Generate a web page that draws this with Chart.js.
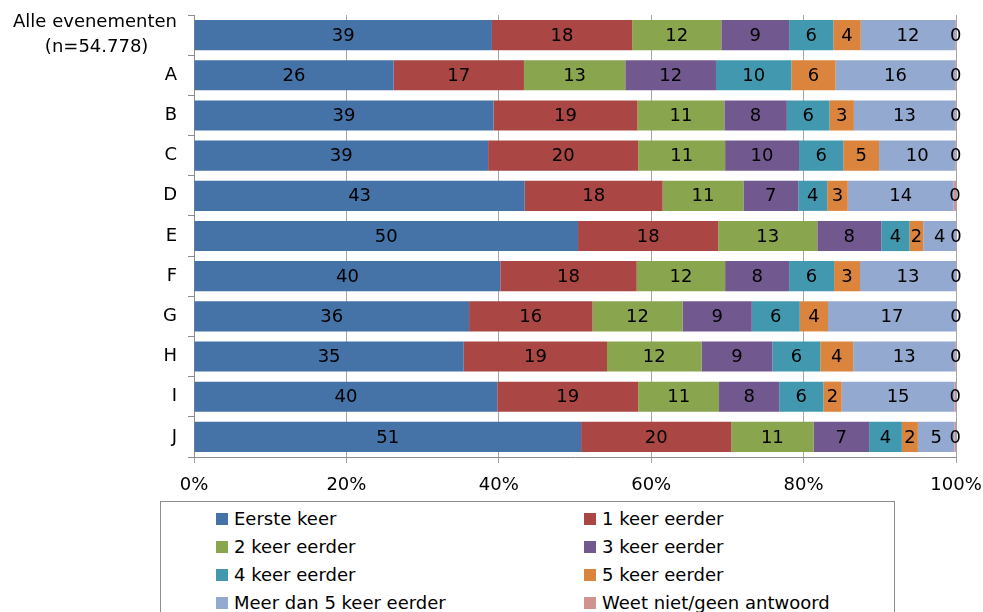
<!DOCTYPE html>
<html>
<head>
<meta charset="utf-8">
<script src="https://cdn.jsdelivr.net/npm/chart.js@4.4.0/dist/chart.umd.min.js"></script>
<style>
    html, body { margin: 0; padding: 0; background: #fff; }
    #wrap { position: relative; width: 983px; height: 612px; overflow: hidden; }
    #legend {
        position: absolute; left: 160px; top: 501px; width: 735px; height: 130px;
        border: 1px solid #8c8c8c; box-sizing: border-box; background: #fff;
        font-family: 'DejaVu Sans', sans-serif; font-size: 18px; color: #000;
    }
    .item { position: absolute; height: 28px; line-height: 28px; white-space: nowrap; }
    .item span.box { position: absolute; left: 0; top: 8px; width: 12px; height: 12px; }
    .item span.txt { position: absolute; left: 18px; top: 0; }
</style>
</head>
<body>
<div id="wrap">
    <canvas id="chart"></canvas>
    <div id="legend"></div>
</div>
<script>
// categories (first label padded so the second line sits centred under the first)
const categories = [['Alle evenementen', '(n=54.778)     '], 'A', 'B', 'C', 'D', 'E', 'F', 'G', 'H', 'I', 'J'];

const seriesNames = ['Eerste keer', '1 keer eerder', '2 keer eerder', '3 keer eerder',
    '4 keer eerder', '5 keer eerder', 'Meer dan 5 keer eerder', 'Weet niet/geen antwoord'];
const seriesColors = ['#4572A7', '#AA4643', '#89A54E', '#71588F', '#4198AF', '#DB843D', '#93A9CF', '#D19392'];

const eersteKeer = [39.1, 26.2, 39.3, 38.6, 43.4, 50.4, 40.2, 36.1, 35.4, 39.8, 50.8];
const keer1 = [18.4, 17.1, 18.9, 19.7, 18.1, 18.4, 17.9, 16.2, 18.8, 18.5, 19.7];
const keer2 = [11.7, 13.3, 11.4, 11.4, 10.6, 13.0, 11.6, 11.8, 12.4, 10.6, 10.8];
const keer3 = [8.9, 11.9, 8.2, 9.7, 7.2, 8.4, 8.4, 9.1, 9.3, 7.9, 7.3];
const keer4 = [5.8, 9.9, 5.6, 5.8, 3.8, 3.7, 5.9, 6.3, 6.3, 5.8, 4.3];
const keer5 = [3.6, 5.8, 3.2, 4.7, 2.7, 1.8, 3.4, 3.7, 4.3, 2.4, 2.1];
const meerDan5 = [12.4, 15.7, 13.3, 10.0, 13.9, 4.3, 12.6, 16.8, 13.4, 14.8, 4.8];
const weetNiet = [0.1, 0.1, 0.1, 0.1, 0.3, 0.0, 0.0, 0.0, 0.1, 0.2, 0.2];

const xTicks = [0, 20, 40, 60, 80, 100];

const seriesValues = [eersteKeer, keer1, keer2, keer3, keer4, keer5, meerDan5, weetNiet];

Chart.defaults.font.family = "'DejaVu Sans', sans-serif";
Chart.defaults.font.size = 18;
Chart.defaults.color = '#000';

// Draw rounded value in the middle of every segment
const segmentLabels = {
    id: 'segmentLabels',
    afterDatasetsDraw(chart) {
        const ctx = chart.ctx;
        ctx.save();
        ctx.font = "18px 'DejaVu Sans', sans-serif";
        ctx.fillStyle = '#000';
        ctx.textAlign = 'center';
        ctx.textBaseline = 'middle';
        chart.data.datasets.forEach((ds, i) => {
            const meta = chart.getDatasetMeta(i);
            meta.data.forEach((bar, j) => {
                const cx = (bar.x + bar.base) / 2;
                ctx.fillText(String(Math.round(ds.data[j])), cx, bar.y + 1);
            });
        });
        ctx.restore();
    }
};

new Chart(document.getElementById('chart'), {
    type: 'bar',
    data: {
        labels: categories,
        datasets: seriesNames.map((name, i) => ({
            label: name,
            data: seriesValues[i],
            backgroundColor: seriesColors[i],
            borderWidth: 0,
            barPercentage: 0.75,
            categoryPercentage: 1
        }))
    },
    options: {
        indexAxis: 'y',
        responsive: true,
        maintainAspectRatio: false,
        animation: false,
        layout: { padding: { top: 15, right: 27, bottom: 0, left: 0 } },
        plugins: { legend: { display: false }, tooltip: { enabled: false } },
        scales: {
            x: {
                stacked: true,
                min: 0,
                max: 100,
                afterBuildTicks: scale => { scale.ticks = xTicks.map(v => ({ value: v })); },
                afterFit: scale => {
                    scale.height = 155;
                    scale.paddingLeft = 0;
                    scale.paddingRight = 0;
                },
                ticks: { callback: v => v + '%', padding: 12, maxRotation: 0 },
                grid: { color: '#a6a6a6', lineWidth: 1, tickLength: 6 },
                border: { color: '#8c8c8c' }
            },
            y: {
                stacked: true,
                afterFit: scale => {
                    scale.width = 194;
                    scale.paddingTop = 0;
                    scale.paddingBottom = 0;
                },
                ticks: { autoSkip: false, padding: 11, font: { size: 18, lineHeight: 1.37 } },
                grid: { offset: true, drawOnChartArea: false, color: '#8c8c8c', tickLength: 6 },
                border: { color: '#8c8c8c' }
            }
        }
    },
    plugins: [segmentLabels]
});

// Legend box, two columns
const legend = document.getElementById('legend');
seriesNames.forEach((name, i) => {
    const el = document.createElement('div');
    el.className = 'item';
    el.style.left = (i % 2 === 0 ? 55 : 423) + 'px';
    el.style.top = (3 + Math.floor(i / 2) * 28) + 'px';
    el.innerHTML = '<span class="box" style="background:' + seriesColors[i] + '"></span><span class="txt">' + name + '</span>';
    legend.appendChild(el);
});
</script>
</body>
</html>
